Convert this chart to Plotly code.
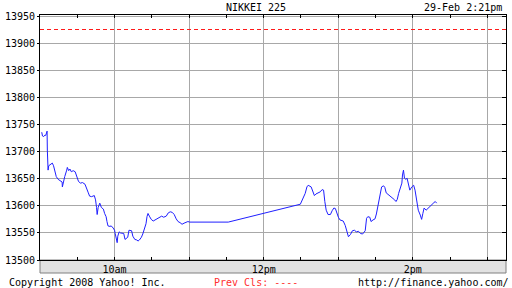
import plotly.graph_objects as go
import pandas as pd

DAY = "2008-02-29"
times = [
    "09:01:24", "09:02:00", "09:03:00", "09:04:06", "09:04:36", "09:05:42", "09:05:54", "09:06:30",
    "09:07:00", "09:08:18", "09:09:54", "09:10:54", "09:12:00", "09:13:06", "09:14:36", "09:16:12",
    "09:17:48", "09:18:00", "09:18:48", "09:19:54", "09:21:30", "09:22:00", "09:23:06", "09:24:06",
    "09:25:12", "09:26:42", "09:28:18", "09:29:24", "09:31:00", "09:32:36", "09:34:12", "09:36:12",
    "09:37:18", "09:38:54", "09:39:54", "09:41:30", "09:43:42", "09:44:42", "09:45:30", "09:46:00",
    "09:46:48", "09:48:06", "09:49:24", "09:51:00", "09:52:00", "09:53:12", "09:53:54", "09:54:42",
    "09:56:18", "09:57:18", "09:58:54", "10:00:00", "10:00:30", "10:01:18", "10:02:06", "10:02:36",
    "10:03:42", "10:04:42", "10:06:18", "10:07:24", "10:08:24", "10:09:24", "10:10:36", "10:11:36",
    "10:12:36", "10:13:42", "10:14:42", "10:16:18", "10:17:54", "10:18:54", "10:20:00", "10:21:36",
    "10:22:42", "10:24:12", "10:25:18", "10:26:06", "10:26:54", "10:28:00", "10:29:30", "10:31:06",
    "10:33:12", "10:34:48", "10:36:18", "10:37:54", "10:39:30", "10:41:36", "10:43:12", "10:44:48",
    "10:46:24", "10:48:00", "10:49:36", "10:51:06", "10:52:42", "10:54:18", "10:55:54", "10:57:30",
    "10:59:00", "11:00:30", "11:31:30",
    "12:29:30", "12:30:48", "12:32:12", "12:33:24", "12:34:48", "12:35:48", "12:38:12", "12:39:42",
    "12:40:48", "12:42:06", "12:44:00", "12:45:36", "12:47:00", "12:48:12", "12:49:12", "12:50:18",
    "12:51:48", "12:53:42", "12:55:06", "12:56:30", "12:57:42", "12:58:42", "13:00:06", "13:01:24",
    "13:04:00", "13:05:36", "13:06:48", "13:08:12", "13:09:48", "13:11:24", "13:13:00", "13:14:36",
    "13:16:18", "13:17:54", "13:19:36", "13:20:36", "13:21:42", "13:22:48", "13:23:48", "13:25:24",
    "13:26:24", "13:28:00", "13:29:36", "13:30:42", "13:31:42", "13:32:42", "13:33:48", "13:34:54",
    "13:36:30", "13:37:30", "13:38:36", "13:40:12", "13:41:48", "13:43:48", "13:45:24", "13:46:30",
    "13:47:30", "13:48:36", "13:50:06", "13:51:12", "13:51:42", "13:52:30", "13:53:18", "13:54:24",
    "13:55:24", "13:56:30", "13:57:36", "13:59:12", "14:00:42", "14:01:48", "14:03:18", "14:04:24",
    "14:06:00", "14:07:06", "14:08:06", "14:09:06", "14:10:42", "14:12:18", "14:13:54", "14:15:30",
    "14:17:00", "14:18:06", "14:19:12",
]
values = [
    13736, 13729, 13728, 13731, 13730, 13738, 13703, 13666,
    13674, 13676, 13679, 13674, 13663, 13654, 13649, 13647,
    13644, 13635, 13645, 13654, 13666, 13671, 13665, 13668,
    13663, 13665, 13663, 13657, 13645, 13642, 13643, 13640,
    13632, 13624, 13618, 13617, 13619, 13611, 13597, 13584,
    13597, 13605, 13597, 13594, 13586, 13580, 13571, 13563,
    13562, 13563, 13559, 13555, 13549, 13540, 13532, 13544,
    13552, 13550, 13550, 13549, 13538, 13540, 13542, 13555,
    13555, 13554, 13544, 13538, 13537, 13535, 13537, 13542,
    13548, 13557, 13567, 13580, 13586, 13581, 13575, 13572,
    13575, 13578, 13579, 13581, 13579, 13581, 13587, 13589,
    13588, 13584, 13576, 13571, 13569, 13566, 13568, 13570,
    13571, 13570, 13570,
    13603, 13609, 13616, 13623, 13635, 13638, 13635, 13626,
    13619, 13622, 13624, 13626, 13630, 13629, 13608, 13592,
    13584, 13584, 13591, 13596, 13595, 13587, 13579, 13574,
    13572, 13564, 13555, 13543, 13547, 13554, 13555, 13552,
    13553, 13549, 13548, 13552, 13554, 13577, 13580, 13579,
    13571, 13574, 13576, 13585, 13596, 13608, 13623, 13635,
    13637, 13634, 13624, 13621, 13617, 13615, 13611, 13608,
    13612, 13623, 13632, 13642, 13657, 13666, 13651, 13649,
    13651, 13639, 13629, 13635, 13638, 13629, 13611, 13592,
    13583, 13575, 13586, 13596, 13592, 13596, 13598, 13603,
    13606, 13608, 13605,
]
prev_close_line = 13925.7
hour_ticks = ["09:00", "10:00", "11:00", "12:00", "13:00", "14:00", "15:00"]
hour_labels = ["", "10am", "", "12pm", "", "2pm", ""]
y_ticks = [13500, 13550, 13600, 13650, 13700, 13750, 13800, 13850, 13900, 13950]

x = pd.to_datetime([f"{DAY} {t}" for t in times])
FONT = "DejaVu Sans Mono"

fig = go.Figure()
fig.add_trace(go.Scatter(x=x, y=values, mode="lines",
                         line=dict(color="#1f1fff", width=1), showlegend=False,
                         hoverinfo="skip"))
fig.add_trace(go.Scatter(x=x, y=values, mode="lines", yaxis="y2",
                         line=dict(color="rgba(0,0,0,0)", width=0), showlegend=False,
                         hoverinfo="skip"))
fig.add_hline(y=prev_close_line, line=dict(color="#ff1a1a", width=1, dash="4px,3px"))

fig.add_shape(type="rect", xref="paper", yref="paper", x0=0, x1=1, y0=-13/245, y1=0,
              fillcolor="#e2e2e2", line=dict(color="#808080", width=1), layer="below")

fig.update_layout(
    width=512, height=288,
    margin=dict(l=34, r=5, t=15, b=28),
    paper_bgcolor="white", plot_bgcolor="white",
    font=dict(family=FONT, size=10, color="black"),
    title=dict(text="NIKKEI 225", x=0.5, xref="container", y=1 - 7/288, yref="container",
               xanchor="center", yanchor="middle", font=dict(family=FONT, size=10, color="black")),
    xaxis=dict(
        type="date",
        range=[f"{DAY} 09:00", f"{DAY} 15:15"],
        tickvals=[f"{DAY} {h}" for h in hour_ticks], ticktext=hour_labels,
        showgrid=True, gridcolor="#a8a8a8", gridwidth=1,
        ticks="inside", ticklen=3, tickcolor="black",
        minor=dict(dtick=1800000, tick0=f"{DAY} 09:00", ticks="inside", ticklen=3,
                   tickcolor="black", showgrid=False),
        showline=True, linecolor="black", linewidth=1, mirror="allticks",
        tickfont=dict(family=FONT, size=10, color="black"),
        fixedrange=True,
    ),
    yaxis=dict(
        range=[13500, 13952.5], tickvals=y_ticks, tickformat="d",
        showgrid=True, gridcolor="#a8a8a8", gridwidth=1,
        ticks="outside", ticklen=2, tickcolor="black",
        showline=True, linecolor="black", linewidth=1, mirror=True,
        zeroline=False,
        tickfont=dict(family=FONT, size=10, color="black"),
    ),
    yaxis2=dict(
        overlaying="y", side="right", matches="y", tickvals=y_ticks,
        showgrid=False, ticks="inside", ticklen=4, tickcolor="black",
        showticklabels=False, showline=False, zeroline=False,
    ),
    annotations=[
        dict(text="29-Feb 2:21pm", xref="paper", yref="paper", x=1, y=1, xshift=-2,
             xanchor="right", yanchor="bottom", showarrow=False,
             font=dict(family=FONT, size=10, color="black")),
        dict(text="Copyright 2008 Yahoo! Inc.", xref="paper", yref="paper", x=-34/473, y=-22/245,
             xanchor="left", yanchor="middle", showarrow=False,
             font=dict(family=FONT, size=10, color="black")),
        dict(text="Prev Cls: ----", xref="paper", yref="paper", x=(253-34)/473, y=-22/245,
             xanchor="center", yanchor="middle", showarrow=False,
             font=dict(family=FONT, size=10, color="#ff3030")),
        dict(text="http://finance.yahoo.com/", xref="paper", yref="paper", x=(512-34)/473, y=-22/245,
             xanchor="right", yanchor="middle", showarrow=False,
             font=dict(family=FONT, size=10, color="black")),
    ],
)

fig.write_html("out.html")
